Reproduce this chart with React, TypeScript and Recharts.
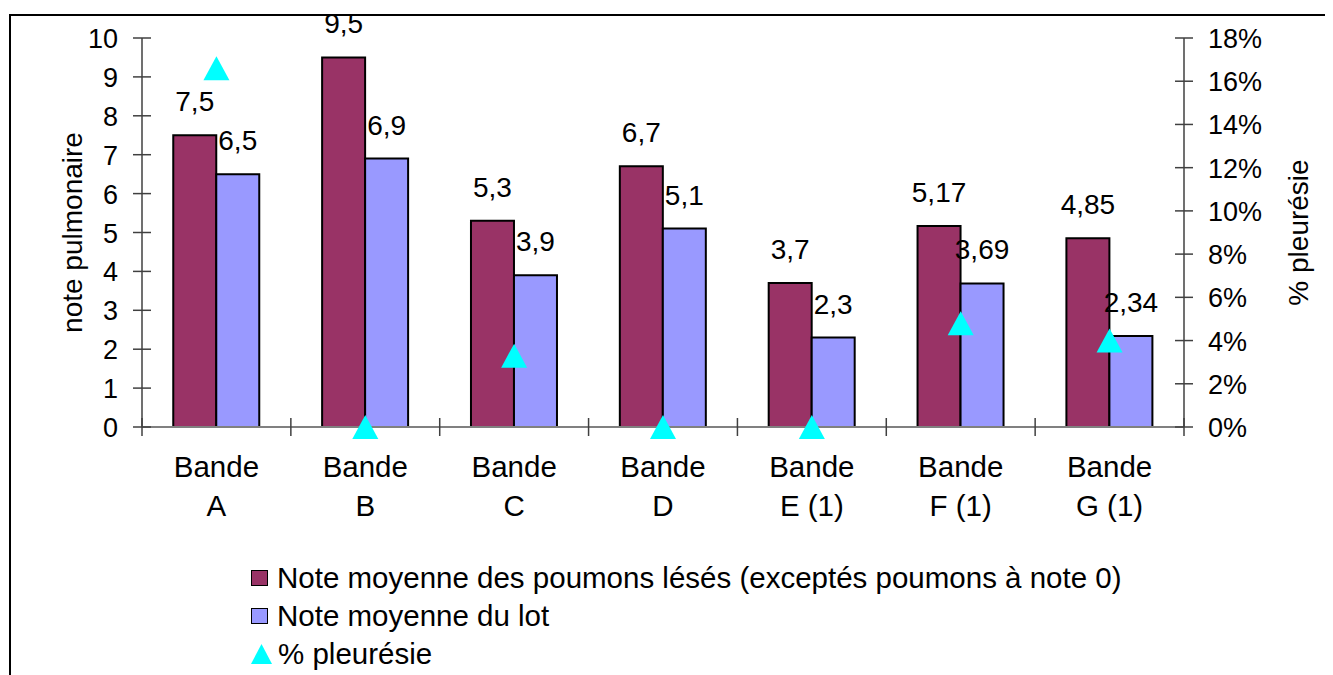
import { ComposedChart, Bar, Scatter, XAxis, YAxis, LabelList, Label } from 'recharts';

const categories = ['Bande A', 'Bande B', 'Bande C', 'Bande D', 'Bande E (1)', 'Bande F (1)', 'Bande G (1)'];
const lesionScores = [7.5, 9.5, 5.3, 6.7, 3.7, 5.17, 4.85];
const lotScores = [6.5, 6.9, 3.9, 5.1, 2.3, 3.69, 2.34];
const pleurisyPct = [16.6, 0, 3.3, 0, 0, 4.8, 4.0];
const leftTicks = [0, 1, 2, 3, 4, 5, 6, 7, 8, 9, 10];
const rightTicks = [0, 2, 4, 6, 8, 10, 12, 14, 16, 18];

const seriesNames = [
  'Note moyenne des poumons lésés (exceptés poumons à note 0)',
  'Note moyenne du lot',
  '% pleurésie',
];

const data = categories.map((category, i) => ({
  category,
  lesion: lesionScores[i],
  lot: lotScores[i],
  pleurisy: pleurisyPct[i],
}));

const FONT = '"Liberation Sans", Arial, sans-serif';
const MAROON = '#993366';
const LAVENDER = '#9999ff';
const CYAN = '#00ffff';

const comma = (v: any) => String(v).replace('.', ',');

function LeftTick({ x, y, payload }: any) {
  return (
    <g>
      <line x1={x - 9} x2={x + 9} y1={y} y2={y} stroke="#404040" strokeWidth={1.5} />
      <text x={x - 24} y={y} dy={10} textAnchor="end" fontSize={27} fontFamily={FONT} fill="#000">
        {payload.value}
      </text>
    </g>
  );
}

function RightTick({ x, y, payload }: any) {
  return (
    <g>
      <line x1={x - 9} x2={x + 9} y1={y} y2={y} stroke="#404040" strokeWidth={1.5} />
      <text x={x + 24} y={y} dy={10} textAnchor="start" fontSize={27} fontFamily={FONT} fill="#000">
        {payload.value}%
      </text>
    </g>
  );
}

function CategoryTick({ x, y, payload, index, visibleTicksCount }: any) {
  const half = payload.offset ?? 0;
  const [first, ...rest] = String(payload.value).split(' ');
  return (
    <g>
      <line x1={x - half} x2={x - half} y1={y - 9} y2={y + 9} stroke="#404040" strokeWidth={1.5} />
      {index === visibleTicksCount - 1 && (
        <line x1={x + half} x2={x + half} y1={y - 9} y2={y + 9} stroke="#404040" strokeWidth={1.5} />
      )}
      <text x={x} y={y + 50} textAnchor="middle" fontSize={29.5} fontFamily={FONT} fill="#000">
        {first}
      </text>
      <text x={x} y={y + 89} textAnchor="middle" fontSize={29.5} fontFamily={FONT} fill="#000">
        {rest.join(' ')}
      </text>
    </g>
  );
}

function Triangle({ cx, cy }: any) {
  if (cx == null || cy == null) return null;
  return <polygon points={`${cx},${cy - 12} ${cx - 13},${cy + 12} ${cx + 13},${cy + 12}`} fill={CYAN} />;
}

const axisTitle = (text: string, dx: number) => (props: any) => {
  const vb = props.viewBox;
  const cx = vb.x + dx;
  const cy = vb.y + vb.height / 2;
  return (
    <text
      x={cx}
      y={cy}
      transform={`rotate(-90, ${cx}, ${cy})`}
      textAnchor="middle"
      dominantBaseline="central"
      fontSize={28}
      fontFamily={FONT}
      fill="#000"
    >
      {text}
    </text>
  );
};

function LegendBox() {
  const swatch = (color: string) => (
    <span
      style={{
        display: 'inline-block',
        width: 15,
        height: 14,
        background: color,
        border: '1.5px solid #000',
        marginRight: 9,
      }}
    />
  );
  const rowStyle: React.CSSProperties = {
    display: 'flex',
    alignItems: 'center',
    height: 38,
    whiteSpace: 'nowrap',
  };
  return (
    <div
      style={{
        position: 'absolute',
        left: 243,
        top: 551,
        fontFamily: FONT,
        fontSize: 29.5,
        color: '#000',
        lineHeight: '38px',
      }}
    >
      <div style={rowStyle}>
        {swatch(MAROON)}
        {seriesNames[0]}
      </div>
      <div style={rowStyle}>
        {swatch(LAVENDER)}
        {seriesNames[1]}
      </div>
      <div style={rowStyle}>
        <svg width={21} height={21} style={{ marginRight: 6 }}>
          <polygon points="10.5,0 0,20 21,20" fill={CYAN} />
        </svg>
        {seriesNames[2]}
      </div>
    </div>
  );
}

export default function App() {
  return (
    <div style={{ position: 'relative', width: 1325, height: 667, overflow: 'hidden', background: '#fff' }}>
      <div
        style={{
          position: 'absolute',
          left: 1,
          top: 6,
          width: 1500,
          height: 900,
          borderTop: '2px solid #000',
          borderLeft: '2px solid #000',
        }}
      />
      <ComposedChart
        width={1325}
        height={667}
        data={data}
        margin={{ top: 30, right: 0, bottom: 0, left: 0 }}
        barCategoryGap="21%"
        barGap={0}
        style={{ position: 'absolute', left: 0, top: 0 }}
      >
        <XAxis
          dataKey="category"
          height={248}
          axisLine={{ stroke: '#808080', strokeWidth: 2 }}
          tickLine={false}
          tickSize={0}
          tickMargin={0}
          interval={0}
          tick={<CategoryTick />}
        />
        <YAxis
          yAxisId="left"
          width={134}
          domain={[0, 10]}
          ticks={leftTicks}
          axisLine={{ stroke: '#404040', strokeWidth: 1.5 }}
          tickLine={false}
          tickSize={0}
          tickMargin={0}
          tick={<LeftTick />}
        >
          <Label content={axisTitle('note pulmonaire', 64)} />
        </YAxis>
        <YAxis
          yAxisId="right"
          orientation="right"
          width={149}
          domain={[0, 18]}
          ticks={rightTicks}
          axisLine={{ stroke: '#404040', strokeWidth: 1.5 }}
          tickLine={false}
          tickSize={0}
          tickMargin={0}
          tick={<RightTick />}
        >
          <Label content={axisTitle('% pleurésie', 114)} />
        </YAxis>
        <Bar yAxisId="left" dataKey="lesion" fill={MAROON} stroke="#000" strokeWidth={2} isAnimationActive={false}>
          <LabelList dataKey="lesion" position="top" offset={24} formatter={comma} fontSize={28} fontFamily={FONT} fill="#000" />
        </Bar>
        <Bar yAxisId="left" dataKey="lot" fill={LAVENDER} stroke="#000" strokeWidth={2} isAnimationActive={false}>
          <LabelList dataKey="lot" position="top" offset={24} formatter={comma} fontSize={28} fontFamily={FONT} fill="#000" />
        </Bar>
        <Scatter yAxisId="right" dataKey="pleurisy" shape={<Triangle />} isAnimationActive={false} />
      </ComposedChart>
      <LegendBox />
    </div>
  );
}
